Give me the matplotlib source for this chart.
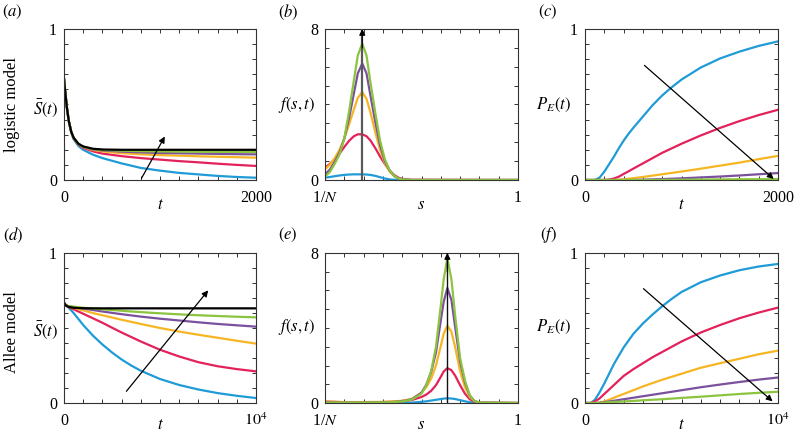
import numpy as np
import matplotlib
matplotlib.use("Agg")
import matplotlib.pyplot as plt

plt.rcParams['font.family'] = 'serif'
plt.rcParams['font.serif'] = ['Liberation Serif', 'DejaVu Serif']
plt.rcParams['mathtext.fontset'] = 'stix'

colors = ['#1f9bd7', '#e3215b', '#f6b623', '#7b519e', '#8cc43f', '#000000']

# (a) logistic model, mean S(t)
t_a = [0, 10, 20, 30, 50, 75, 100, 150, 200, 300, 400, 600, 800, 1000, 1200, 1400, 1600, 1800, 2000]
blue_a = [0.67, 0.60, 0.54, 0.48, 0.39, 0.315, 0.27, 0.225, 0.2, 0.168, 0.145, 0.11, 0.08, 0.062, 0.047, 0.037, 0.027, 0.02, 0.015]
red_a = [0.67, 0.60, 0.54, 0.48, 0.39, 0.32, 0.279, 0.234, 0.213, 0.19, 0.175, 0.158, 0.145, 0.135, 0.125, 0.117, 0.108, 0.1, 0.093]
yellow_a = [0.67, 0.60, 0.54, 0.48, 0.39, 0.32, 0.28, 0.237, 0.218, 0.199, 0.19, 0.178, 0.17, 0.165, 0.161, 0.157, 0.154, 0.151, 0.148]
purple_a = [0.67, 0.60, 0.54, 0.48, 0.39, 0.32, 0.28, 0.239, 0.22, 0.203, 0.196, 0.188, 0.183, 0.179, 0.177, 0.175, 0.173, 0.171, 0.17]
green_a = [0.67, 0.60, 0.54, 0.48, 0.39, 0.32, 0.28, 0.24, 0.221, 0.205, 0.199, 0.194, 0.191, 0.189, 0.188, 0.187, 0.186, 0.186, 0.185]
black_a = [0.67, 0.60, 0.54, 0.48, 0.39, 0.32, 0.28, 0.24, 0.222, 0.207, 0.202, 0.2, 0.2, 0.2, 0.2, 0.2, 0.2, 0.2, 0.2]

# (b) logistic model, f(s,t)
s_b = [0, 0.025, 0.05, 0.075, 0.1, 0.125, 0.15, 0.17, 0.193, 0.215, 0.235, 0.26, 0.285, 0.31, 0.335, 0.36, 0.385, 0.41, 0.45, 1.0]
blue_b = [0.12, 0.16, 0.2, 0.24, 0.27, 0.29, 0.3, 0.3, 0.3, 0.29, 0.27, 0.22, 0.15, 0.08, 0.03, 0.01, 0, 0, 0, 0]
red_b = [0.65, 0.85, 1.1, 1.4, 1.75, 2.08, 2.32, 2.42, 2.42, 2.32, 2.1, 1.7, 1.25, 0.85, 0.5, 0.25, 0.1, 0.04, 0.01, 0]
yellow_b = [0.57, 0.8, 1.15, 1.6, 2.2, 2.95, 3.75, 4.35, 4.66, 4.3, 3.6, 2.55, 1.6, 0.9, 0.45, 0.2, 0.07, 0.02, 0, 0]
purple_b = [0.3, 0.55, 0.95, 1.45, 2.2, 3.3, 4.6, 5.65, 6.17, 5.65, 4.5, 3.1, 1.85, 1.0, 0.5, 0.2, 0.07, 0.02, 0, 0]
green_b = [0.18, 0.42, 0.85, 1.35, 2.2, 3.65, 5.3, 6.6, 7.23, 6.6, 5.2, 3.6, 2.1, 1.1, 0.5, 0.2, 0.06, 0.02, 0, 0]
peak_b = 0.193

# (c) logistic model, P_E(t)
t_c = [0, 100, 150, 200, 250, 300, 350, 400, 450, 500, 600, 700, 800, 900, 1000, 1200, 1400, 1600, 1800, 2000]
blue_c = [0, 0, 0.015, 0.055, 0.105, 0.155, 0.21, 0.26, 0.305, 0.345, 0.42, 0.495, 0.56, 0.615, 0.665, 0.745, 0.805, 0.85, 0.888, 0.918]
red_c = [0, 0, 0, 0, 0.003, 0.01, 0.022, 0.04, 0.057, 0.075, 0.11, 0.145, 0.18, 0.21, 0.24, 0.295, 0.345, 0.39, 0.43, 0.465]
yellow_c = [0, 0, 0, 0, 0, 0, 0.002, 0.005, 0.008, 0.012, 0.02, 0.029, 0.038, 0.047, 0.056, 0.075, 0.095, 0.115, 0.138, 0.16]
purple_c = [0, 0, 0, 0, 0, 0, 0, 0, 0, 0, 0.002, 0.004, 0.006, 0.0085, 0.011, 0.017, 0.023, 0.03, 0.038, 0.046]
green_c = [0, 0, 0, 0, 0, 0, 0, 0, 0, 0, 0, 0, 0.001, 0.0015, 0.002, 0.003, 0.004, 0.005, 0.005, 0.006]

# (d) Allee model, mean S(t)
t_d = [0, 100, 250, 500, 750, 1000, 1500, 2000, 2500, 3000, 3500, 4000, 5000, 6000, 7000, 8000, 9000, 10000]
blue_d = [0.668, 0.65, 0.635, 0.6, 0.56, 0.52, 0.45, 0.39, 0.337, 0.29, 0.25, 0.215, 0.16, 0.12, 0.09, 0.066, 0.048, 0.033]
red_d = [0.668, 0.65, 0.64, 0.625, 0.61, 0.595, 0.565, 0.535, 0.502, 0.47, 0.44, 0.41, 0.355, 0.31, 0.272, 0.245, 0.226, 0.211]
yellow_d = [0.668, 0.652, 0.644, 0.635, 0.626, 0.618, 0.6, 0.585, 0.57, 0.555, 0.541, 0.527, 0.5, 0.476, 0.455, 0.435, 0.415, 0.396]
purple_d = [0.668, 0.652, 0.645, 0.64, 0.635, 0.63, 0.62, 0.61, 0.601, 0.592, 0.584, 0.576, 0.562, 0.55, 0.538, 0.527, 0.518, 0.509]
green_d = [0.668, 0.652, 0.645, 0.642, 0.638, 0.635, 0.63, 0.625, 0.62, 0.615, 0.61, 0.606, 0.598, 0.591, 0.585, 0.58, 0.575, 0.571]
black_d = [0.668, 0.65, 0.64, 0.635, 0.633, 0.632, 0.631, 0.631, 0.631, 0.631, 0.631, 0.631, 0.631, 0.631, 0.631, 0.631, 0.631, 0.631]

# (e) Allee model, f(s,t)
s_e = [0, 0.1, 0.2, 0.3, 0.35, 0.4, 0.45, 0.5, 0.525, 0.55, 0.575, 0.6, 0.615, 0.634, 0.655, 0.675, 0.7, 0.725, 0.75, 0.775, 0.8, 1.0]
blue_e = [0, 0, 0, 0, 0, 0.01, 0.02, 0.06, 0.09, 0.13, 0.17, 0.21, 0.235, 0.25, 0.24, 0.21, 0.15, 0.09, 0.04, 0.015, 0, 0]
red_e = [0.08, 0.04, 0.04, 0.05, 0.07, 0.1, 0.16, 0.32, 0.45, 0.65, 0.95, 1.4, 1.68, 1.86, 1.75, 1.45, 0.95, 0.5, 0.2, 0.06, 0.01, 0]
yellow_e = [0.08, 0.05, 0.05, 0.06, 0.08, 0.12, 0.22, 0.55, 0.85, 1.3, 2.0, 3.05, 3.7, 4.12, 3.8, 2.95, 1.7, 0.85, 0.32, 0.09, 0.02, 0]
purple_e = [0.03, 0.02, 0.02, 0.03, 0.05, 0.09, 0.2, 0.55, 0.98, 1.65, 2.7, 4.4, 5.4, 6.13, 5.5, 4.0, 2.2, 1.1, 0.4, 0.1, 0.02, 0]
green_e = [0.02, 0.02, 0.02, 0.03, 0.05, 0.08, 0.18, 0.5, 0.95, 1.7, 3.0, 5.2, 6.6, 7.72, 6.6, 4.6, 2.4, 1.2, 0.4, 0.1, 0.02, 0]
peak_e = 0.634

# (f) Allee model, P_E(t)
t_f = [0, 300, 500, 750, 1000, 1250, 1500, 1750, 2000, 2500, 3000, 3500, 4000, 4500, 5000, 6000, 7000, 8000, 9000, 10000]
blue_f = [0, 0, 0.02, 0.07, 0.13, 0.195, 0.26, 0.315, 0.37, 0.46, 0.53, 0.59, 0.645, 0.695, 0.74, 0.805, 0.85, 0.885, 0.91, 0.927]
red_f = [0, 0, 0.01, 0.03, 0.06, 0.09, 0.12, 0.15, 0.18, 0.225, 0.265, 0.305, 0.34, 0.375, 0.41, 0.47, 0.52, 0.565, 0.603, 0.636]
yellow_f = [0, 0, 0, 0.003, 0.01, 0.022, 0.035, 0.048, 0.06, 0.085, 0.11, 0.133, 0.155, 0.175, 0.195, 0.235, 0.265, 0.295, 0.325, 0.349]
purple_f = [0, 0, 0, 0.001, 0.005, 0.01, 0.015, 0.02, 0.025, 0.035, 0.045, 0.055, 0.065, 0.075, 0.085, 0.105, 0.123, 0.14, 0.156, 0.17]
green_f = [0, 0, 0, 0, 0.003, 0.005, 0.007, 0.0085, 0.01, 0.014, 0.018, 0.0215, 0.025, 0.0295, 0.034, 0.042, 0.051, 0.06, 0.068, 0.075]

# arrows (start, end) in data coords
arrow_a = [(807, 0.011), (1050, 0.288)]
arrow_c = [(616, 0.759), (1955, 0.007)]
arrow_d = [(3250, 0.078), (7510, 0.751)]
arrow_f = [(3030, 0.762), (9720, 0.011)]

W, H = 794, 440
fig = plt.figure(figsize=(W / 100, H / 100), dpi=100)


def px(x, y):
    return x / W, 1 - y / H


def make_ax(x0, y0, x1, y1):
    l, t = px(x0, y0)
    r, b = px(x1, y1)
    ax = fig.add_axes([l, b, r - l, t - b])
    for sp in ax.spines.values():
        sp.set_linewidth(0.8)
        sp.set_color('#333333')
    ax.tick_params(direction='in', top=True, right=True, length=2.8, width=0.7,
                   color='#333333', labelsize=11.5)
    ax.tick_params(axis='x', pad=7)
    ax.tick_params(axis='y', pad=5)
    return ax


def set_ticks(ax, xt, xlab, yt, ylab):
    ax.set_xticks(xt)
    ax.set_xticklabels([xlab[0]] + [''] * (len(xt) - 2) + [xlab[1]])
    ax.set_yticks(yt)
    ax.set_yticklabels([ylab[0]] + [''] * (len(yt) - 2) + [ylab[1]])
    ax.set_xlim(xt[0], xt[-1])
    ax.set_ylim(yt[0], yt[-1])


def arrow(ax, a, lw=0.9, color='k'):
    ax.annotate('', xy=a[1], xytext=a[0],
                arrowprops=dict(arrowstyle='-|>', lw=lw, color=color,
                                mutation_scale=9, shrinkA=0, shrinkB=0))


def vert_arrow(ax, s, line_color, line_w):
    ax.axvline(s, color=line_color, lw=line_w, zorder=3)
    ax.annotate('', xy=(s, 8), xytext=(s, 7.0),
                arrowprops=dict(arrowstyle='-|>', lw=0.8, color='k', mutation_scale=9,
                                shrinkA=0, shrinkB=0), annotation_clip=False, zorder=4)


lw = 1.6
top = (29, 180)
bot = (253, 403)
cols = [(64, 256), (325, 518), (585, 778)]

# (a)
ax = make_ax(cols[0][0], top[0], cols[0][1], top[1])
for y, c in zip([blue_a, red_a, yellow_a, purple_a, green_a, black_a], colors):
    ax.plot(t_a, y, color=c, lw=lw)
set_ticks(ax, np.arange(0, 2001, 200), ['0', '2000'], np.linspace(0, 1, 11), ['0', '1'])
arrow(ax, arrow_a)

# (b)
ax = make_ax(cols[1][0], top[0], cols[1][1], top[1])
for y, c in zip([blue_b, red_b, yellow_b, purple_b, green_b], colors):
    ax.plot(s_b, y, color=c, lw=lw)
set_ticks(ax, np.linspace(0, 1, 11), [r'1/$N$', '1'], np.arange(0, 9, 1), ['0', '8'])
vert_arrow(ax, peak_b, '#5a5a5a', 1.6)

# (c)
ax = make_ax(cols[2][0], top[0], cols[2][1], top[1])
for y, c in zip([blue_c, red_c, yellow_c, purple_c, green_c], colors):
    ax.plot(t_c, y, color=c, lw=lw)
set_ticks(ax, np.arange(0, 2001, 200), ['0', '2000'], np.linspace(0, 1, 11), ['0', '1'])
arrow(ax, arrow_c)

# (d)
ax = make_ax(cols[0][0], bot[0], cols[0][1], bot[1])
for y, c in zip([blue_d, red_d, yellow_d, purple_d, green_d, black_d], colors):
    ax.plot(t_d, y, color=c, lw=lw)
set_ticks(ax, np.arange(0, 10001, 1000), ['0', r'$10^4$'], np.linspace(0, 1, 11), ['0', '1'])
arrow(ax, arrow_d)

# (e)
ax = make_ax(cols[1][0], bot[0], cols[1][1], bot[1])
for y, c in zip([blue_e, red_e, yellow_e, purple_e, green_e], colors):
    ax.plot(s_e, y, color=c, lw=lw)
set_ticks(ax, np.linspace(0, 1, 11), [r'1/$N$', '1'], np.arange(0, 9, 1), ['0', '8'])
vert_arrow(ax, peak_e, '#111111', 1.0)

# (f)
ax = make_ax(cols[2][0], bot[0], cols[2][1], bot[1])
for y, c in zip([blue_f, red_f, yellow_f, purple_f, green_f], colors):
    ax.plot(t_f, y, color=c, lw=lw)
set_ticks(ax, np.arange(0, 10001, 1000), ['0', r'$10^4$'], np.linspace(0, 1, 11), ['0', '1'])
arrow(ax, arrow_f)

fs = 12
# panel letters
for lab, x, y in [('a', 12, 12), ('b', 288, 12), ('c', 548, 12),
                  ('d', 13, 235), ('e', 288, 235), ('f', 548, 235)]:
    fig.text(*px(x, y), r'$(\mathit{%s})$' % lab, fontsize=fs, ha='center', va='center')

fig.text(*px(12, 105), 'logistic model', fontsize=fs, rotation=90, ha='center', va='center')
fig.text(*px(12, 332), 'Allee model', fontsize=fs, rotation=90, ha='center', va='center')

for y in [108, 330]:
    fig.text(*px(46, y), r'$\bar{S}(t)$', fontsize=fs, ha='center', va='center')
    fig.text(*px(296, y - 3), r'$f(s,t)$', fontsize=fs, ha='center', va='center')
    fig.text(*px(553, y - 3), r'$P_E(t)$', fontsize=fs, ha='center', va='center')

for y in [205, 425]:
    fig.text(*px(160, y), r'$t$', fontsize=fs, ha='center', va='center')
    fig.text(*px(421, y), r'$s$', fontsize=fs, ha='center', va='center')
    fig.text(*px(681, y), r'$t$', fontsize=fs, ha='center', va='center')

fig.savefig('out.png', dpi=100)
